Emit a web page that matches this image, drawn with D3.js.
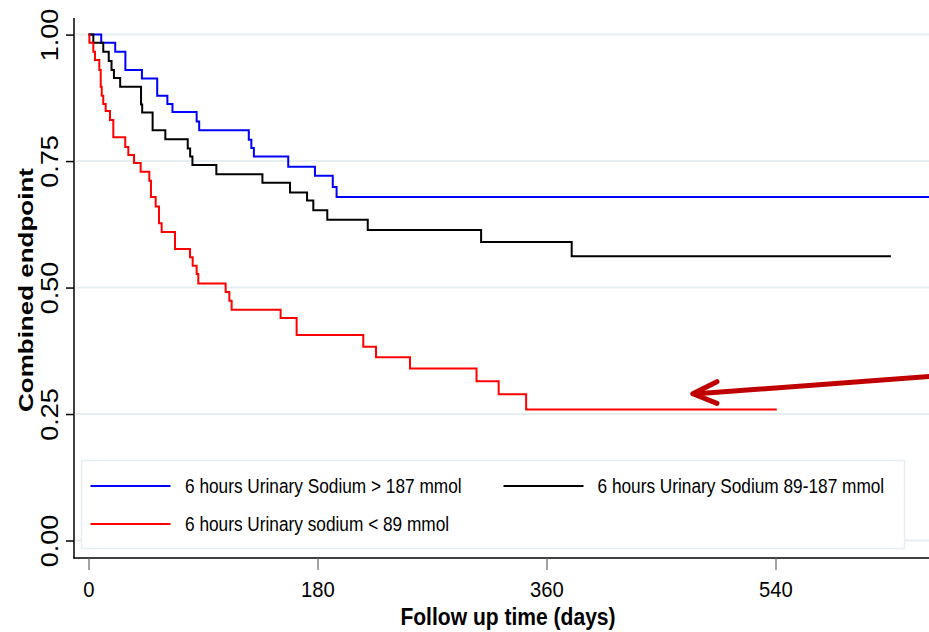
<!DOCTYPE html>
<html>
<head>
<meta charset="utf-8">
<script src="https://cdn.jsdelivr.net/npm/d3@7"></script>
<style>
  body { margin: 0; background: #fff; }
  svg { display: block; }
  text { font-family: "Liberation Sans", Arial, sans-serif; }
</style>
</head>
<body>
<script>
// Kaplan-Meier steps (days, survival)
const blueTimes = [0, 10, 21, 29, 42, 54, 62, 66, 85, 87, 126, 128, 130, 157, 178, 192, 195, 661];
const blueSurv  = [1, .984, .966, .930, .913, .879, .863, .847, .828, .811, .792, .776, .759, .739, .721, .699, .679, .679];

const blackTimes = [0, 3.8, 11.6, 15.9, 18.1, 20, 24.9, 41.3, 42.2, 50.4, 60.4, 78, 79.9, 81.7, 100.5, 136.7, 158.4, 171.8, 176.7, 187.7, 219.5, 308.6, 379.8, 630.7];
const blackSurv  = [1, .984, .966, .948, .930, .914, .897, .862, .846, .811, .793, .775, .759, .742, .724, .707, .688, .672, .653, .634, .614, .590, .562, .562];

const redTimes = [0, 0.7, 3.8, 5.1, 8.5, 9.6, 10.4, 11.6, 13.5, 16.9, 19.5, 28.9, 31.3, 35.8, 41, 47.8, 49.1, 52.8, 55.4, 57.5, 68, 79.8, 81.9, 85, 86.3, 107.8, 110.7, 112.5, 151, 163.6, 216, 226, 252.7, 305, 322.4, 344, 541];
const redSurv  = [1, .984, .966, .950, .930, .897, .879, .863, .849, .831, .797, .778, .762, .746, .729, .711, .679, .660, .627, .610, .576, .560, .543, .527, .508, .491, .474, .456, .440, .406, .383, .362, .340, .315, .289, .259, .259];

const seriesNames = ["6 hours Urinary Sodium > 187 mmol", "6 hours Urinary Sodium 89-187 mmol", "6 hours Urinary sodium < 89 mmol"];
const seriesColors = ["#0000ff", "#000000", "#ff0000"];

const xTicks = [0, 180, 360, 540];
const yTicks = [0, 0.25, 0.5, 0.75, 1];

// arrow annotation in data units: tail, tip, two head ends
const arrowTail = [661, 0.324];
const arrowTip = [475, 0.290];
const arrowHeads = [[494, 0.314], [494, 0.271]];

const width = 929, height = 632;
const sq = 0.86; // text in the picture is squeezed sideways

const svg = d3.select("body").append("svg")
    .attr("width", width)
    .attr("height", height);

const x = d3.scaleLinear().domain([0, 540]).range([88.5, 775.5]);
const y = d3.scaleLinear().domain([0, 1]).range([540.5, 34.6]);

// gridlines
svg.append("g").selectAll("line")
    .data(yTicks)
    .enter().append("line")
    .attr("x1", 76).attr("x2", width)
    .attr("y1", d => y(d)).attr("y2", d => y(d))
    .attr("stroke", "#e6eef2")
    .attr("stroke-width", 2);

// curves
const series = [
    { times: blueTimes, surv: blueSurv },
    { times: blackTimes, surv: blackSurv },
    { times: redTimes, surv: redSurv }
];
const line = d3.line()
    .x(d => x(d[0]))
    .y(d => y(d[1]))
    .curve(d3.curveStepAfter);

series.forEach((s, i) => {
    svg.append("path")
        .datum(s.times.map((t, j) => [t, s.surv[j]]))
        .attr("fill", "none")
        .attr("stroke", seriesColors[i])
        .attr("stroke-width", 2)
        .attr("d", line);
});

// legend
const legend = svg.append("g");
legend.append("rect")
    .attr("x", 81.5).attr("y", 460.5)
    .attr("width", 823).attr("height", 88)
    .attr("fill", "#fff")
    .attr("stroke", "#e6eef2")
    .attr("stroke-width", 1.5);
const legPos = [[90.5, 486, 185], [503.5, 486, 597.5], [90.5, 524, 185]];
seriesNames.forEach((name, i) => {
    const [lx, ly, tx] = legPos[i];
    legend.append("line")
        .attr("x1", lx).attr("x2", lx + 80)
        .attr("y1", ly).attr("y2", ly)
        .attr("stroke", seriesColors[i])
        .attr("stroke-width", 2);
    legend.append("text")
        .attr("transform", `translate(${tx},${ly + 7}) scale(0.885,1)`)
        .attr("font-size", 19.5)
        .attr("fill", "#000")
        .text(name);
});

// arrow
const arrow = svg.append("g")
    .attr("stroke", "#c00000")
    .attr("stroke-width", 5)
    .attr("stroke-linecap", "round")
    .attr("stroke-linejoin", "round")
    .attr("fill", "none");
arrow.append("line")
    .attr("x1", x(arrowTail[0]) + 10).attr("y1", y(arrowTail[1]) - 0.9)
    .attr("x2", x(arrowTip[0]) + 4).attr("y2", y(arrowTip[1]));
arrow.append("path")
    .attr("d", d3.line()([
        [x(arrowHeads[0][0]), y(arrowHeads[0][1])],
        [x(arrowTip[0]), y(arrowTip[1])],
        [x(arrowHeads[1][0]), y(arrowHeads[1][1])]
    ]));

// axes frame
svg.append("line")
    .attr("x1", 74).attr("x2", 74)
    .attr("y1", 18).attr("y2", 558.5)
    .attr("stroke", "#000").attr("stroke-width", 1.5);
svg.append("line")
    .attr("x1", 73.3).attr("x2", width)
    .attr("y1", 558).attr("y2", 558)
    .attr("stroke", "#000").attr("stroke-width", 1.5);

// y axis
const yAxis = svg.append("g")
    .attr("transform", "translate(74,0)")
    .call(d3.axisLeft(y).tickValues(yTicks).tickFormat(d3.format(".2f")).tickSize(8));
yAxis.select(".domain").remove();
yAxis.selectAll("line").attr("stroke", "#000").attr("stroke-width", 1.5);
yAxis.selectAll("text")
    .attr("x", null).attr("dy", null)
    .attr("text-anchor", "middle")
    .attr("font-family", "Liberation Sans, Arial, sans-serif")
    .attr("font-size", 27)
    .attr("fill", "#000")
    .attr("transform", `translate(-16,0) scale(${sq},1) rotate(-90)`);

// x axis
const xAxis = svg.append("g")
    .attr("transform", "translate(0,558)")
    .call(d3.axisBottom(x).tickValues(xTicks).tickSize(12));
xAxis.select(".domain").remove();
xAxis.selectAll("line").attr("stroke", "#666").attr("stroke-width", 1.2);
xAxis.selectAll("text")
    .attr("y", null).attr("dy", null)
    .attr("font-family", "Liberation Sans, Arial, sans-serif")
    .attr("font-size", 22)
    .attr("fill", "#000")
    .attr("transform", `translate(0,38.5) scale(0.92,1)`);

// axis titles
svg.append("text")
    .attr("transform", `translate(508,624.5) scale(${sq},1)`)
    .attr("text-anchor", "middle")
    .attr("font-size", 24.5)
    .attr("font-weight", "bold")
    .text("Follow up time (days)");

svg.append("text")
    .attr("transform", `translate(33,290) scale(0.8,1) rotate(-90)`)
    .attr("text-anchor", "middle")
    .attr("font-size", 26)
    .attr("font-weight", "bold")
    .text("Combined endpoint");
</script>
</body>
</html>
